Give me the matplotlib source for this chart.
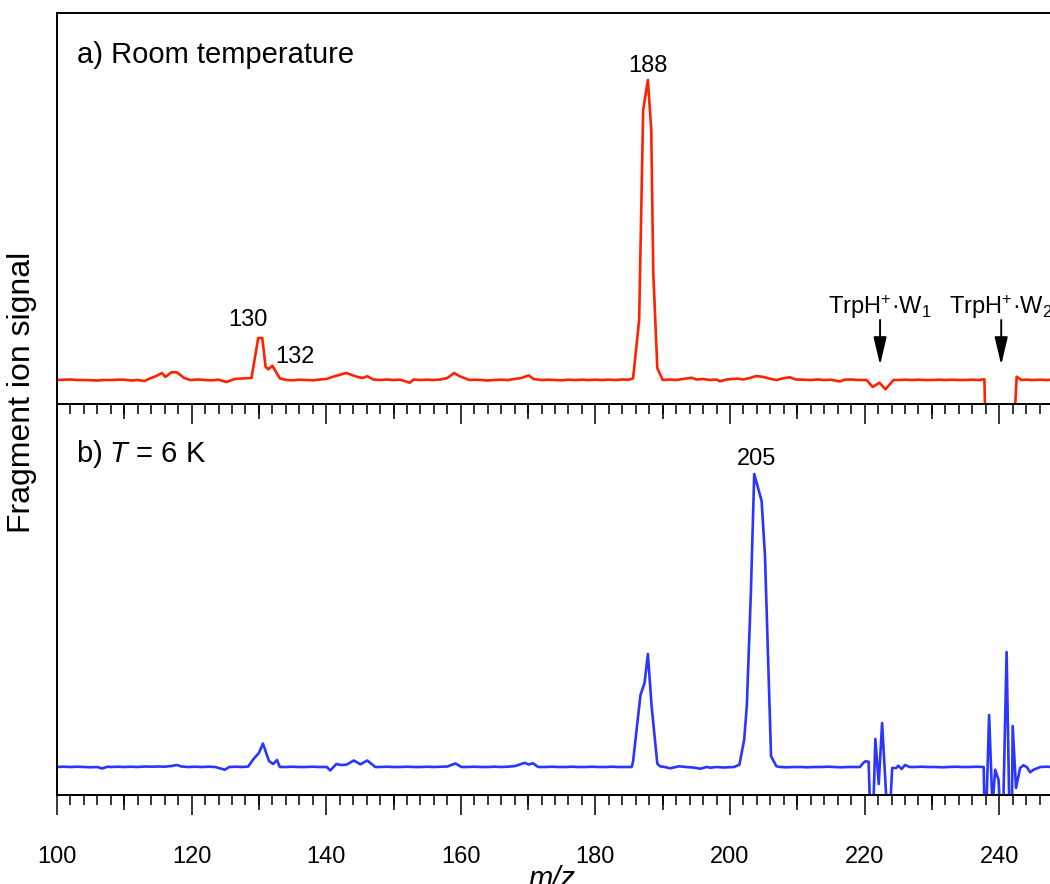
import matplotlib
matplotlib.use("Agg")
import matplotlib.pyplot as plt
from matplotlib.ticker import MultipleLocator, NullLocator

plt.rcParams['font.family'] = ['Liberation Sans', 'DejaVu Sans']
plt.rcParams['mathtext.fontset'] = 'custom'
plt.rcParams['mathtext.rm'] = 'Liberation Sans'
plt.rcParams['mathtext.it'] = 'Liberation Sans:italic'
plt.rcParams['mathtext.sf'] = 'Liberation Sans'

# ---------------- data (m/z, fragment ion signal in a.u.) ----------------
room_temp = [
    (100, 0), (101, 0.3), (102, 0.5), (103, 0), (104, 0), (105, -0.3), (106, -0.5),
    (107, 0), (108, 0), (109, 0.3), (110, 0.3), (111, -0.5), (112, 0), (113, -1),
    (113.8, 1.5), (114.7, 3.8), (115.6, 7), (116.1, 3), (117.0, 7.7), (117.8, 7.7),
    (118.9, 2), (119.8, 0), (121, 0.5), (122, 0), (123, -0.3), (124, 0.3), (125.2, -2),
    (126.4, 1), (127.5, 1.5), (128.9, 2), (129.9, 42), (130.5, 42), (131.0, 13),
    (131.4, 10.7), (132.0, 14.3), (133.1, 1.7), (134.1, 0), (135, -0.3), (136, 0.3),
    (137, 0), (138, -0.3), (139, 0.5), (140, 1), (141.3, 3.8), (142.2, 5.5), (143.0, 7),
    (144.0, 4.5), (144.7, 3), (145.4, 2), (146.1, 3.8), (147, 0.5), (148, 0), (149, 0.5),
    (150, 0), (151, 0.3), (152.4, -2.7), (153, 0.5), (154, 0), (155, 0.3), (156, 0),
    (157, 0.5), (158, 2), (159, 7), (159.8, 3.8), (160.5, 2), (161.3, 0), (162, 0.3),
    (163, 0), (164, -0.5), (165, 0), (166, 0.3), (167, 0), (168, 1), (169, 2),
    (170.1, 4.6), (170.8, 1), (172, 0), (173, 0.3), (174, 0), (175, -0.3), (176, 0.3),
    (177, 0), (178, 0.3), (179, 0), (180, 0.3), (181, 0), (182, 0.3), (183, 0),
    (184, 0.5), (185, 0.3), (185.6, 1.7), (186.5, 60), (187.1, 270), (187.8, 300),
    (188.3, 250), (188.6, 107), (189.2, 12), (190, 0), (191, 0.5), (192, 0), (193, 1),
    (194.3, 2.3), (195, 0.5), (196, 1), (197, 0), (198, 0.5), (198.5, -1.3), (199.5, 0.5),
    (200.3, 1), (201.2, 1.3), (202, 0.5), (203.2, 2.5), (203.9, 4), (205, 3),
    (205.8, 1.5), (206.9, 0), (207.8, 1.5), (208.9, 2.7), (209.8, 0.5), (211, 0.3),
    (212, 0), (213, 0.5), (214, 0), (215, 0.3), (216.3, -1.5), (217, 0.3), (218, 0.5),
    (219, 0), (220.3, 0), (221.2, -7), (222.2, -2.7), (223.1, -9.3), (224.3, 0),
    (225, 0), (226, 0.3), (227, 0), (228, 0.3), (229, 0), (230, 0), (231, 0.3),
    (232, 0), (233, 0.3), (234, 0), (235, 0), (236, 0.3), (237, 0), (237.8, 0.7),
    (238.0, -60), (242.1, -60), (242.6, 3.3), (243.3, 0), (244, 0.3), (245, 0),
    (246, 0.3), (247, 0), (248, 0.3), (249, 0), (250, 0),
]

cold_6K = [
    (100, 0), (101, 0.3), (102, 0), (103, 0.3), (104, 0), (105, -0.3), (106, 0),
    (106.7, -1.5), (107.5, 0.3), (108, 0), (109, 0.3), (110, 0), (111, 0.3), (112, 0),
    (113, 0.5), (114, 0.3), (115, 0.5), (116, 0.3), (117, 1), (117.8, 2), (118.5, 0.5),
    (119.5, 0), (120.5, 0.3), (121.5, 0), (122.5, 0.3), (123.5, 0), (124.95, -2.7),
    (125.6, 0), (126.5, 0.3), (127.5, 0), (128.4, 0.4), (129.2, 8), (130.0, 14),
    (130.6, 23.5), (131.5, 6), (132.1, 3), (132.7, 7), (133.1, 0), (134, 0), (135, 0.3),
    (136, 0), (137, 0), (138, 0.3), (139, 0), (140.1, 0), (140.6, -3.5), (141.5, 3),
    (142.2, 2), (143.0, 2.3), (144.1, 6.5), (145.1, 2.7), (146.1, 6.5), (147.3, 0),
    (148, 0), (149, 0.3), (150, 0), (151, 0), (152, 0.3), (153, 0), (154, 0),
    (155, 0.3), (156, 0), (157, 0.3), (158, 0.5), (159.2, 3.5), (160.1, 0), (161, 0),
    (162, 0.3), (163, 0), (164, 0), (165, 0.3), (166, 0), (167, 0.3), (168.1, 1),
    (169.5, 4.2), (170.1, 2.5), (170.7, 3.8), (171.5, 0), (172.5, 0), (173.5, 0.3),
    (174.5, 0), (175.5, 0), (176.5, 0.3), (177.5, 0), (178.5, 0), (179.5, 0.3),
    (180.5, 0), (181.5, 0), (182.5, 0.3), (183.5, 0), (184.5, 0), (185.4, 0),
    (185.6, 5.7), (186.7, 72), (187.3, 84), (187.8, 113), (188.35, 61), (189.2, 3.3),
    (189.6, 0.7), (190.3, 0), (191.1, -1.3), (192.4, 0.7), (193.5, 0), (194.5, -0.5),
    (195.6, -1.7), (196.5, 0), (197.1, -0.7), (198, 0), (199, -0.5), (200.6, 0),
    (201.4, 2.3), (202.1, 27), (202.5, 61), (203.1, 174), (203.6, 293), (204.7, 266),
    (205.2, 211), (206.1, 10.7), (206.9, 0.7), (207.5, 0), (208.4, -0.3), (209.5, 0),
    (210.5, 0), (211.5, -0.3), (212.5, 0), (213.5, 0), (214.5, 0.3), (215.5, 0),
    (216.5, -0.3), (217.5, 0), (218.5, 0), (219.3, 0), (219.8, 4), (220.1, 5.7),
    (220.6, 5.3), (220.8, -40), (221.3, -40), (221.6, 28), (222.1, -17), (222.6, 44),
    (223.3, -40), (223.8, -40), (224.1, -1), (224.7, -1), (225.0, 1.3), (225.5, -2),
    (226.0, 2), (226.7, 0), (227.5, 0), (228.5, 0.3), (229.5, 0), (230.5, 0),
    (231.5, -0.3), (232.5, 0), (233.5, 0.3), (234.5, 0), (235.5, 0), (236.5, 0.3),
    (237.7, 0), (237.8, -40), (238.1, -40), (238.5, 52), (239.0, -40), (239.4, -2.7),
    (239.9, -12.7), (240.1, -40), (240.6, -40), (241.1, 115), (241.5, -40),
    (241.9, -40), (242.0, 41), (242.5, -21), (243.1, -1), (243.6, 1.7), (244.1, 0),
    (244.6, -5.3), (245.1, -2.7), (246.1, 0), (247, 0.3), (248, 0), (249, 0.3), (250, 0),
]

mz_a, sig_a = zip(*room_temp)
mz_b, sig_b = zip(*cold_6K)

peak_labels_a = [("188", 187.8, 308), ("130", 128.4, 54), ("132", 135.4, 17)]
peak_labels_b = [("205", 204.0, 302)]
cluster_mz = [222.3, 240.3]
cluster_labels = [r"TrpH$^{+}$·W$_{1}$", r"TrpH$^{+}$·W$_{2}$"]

RED = "#ff2200"
BLUE = "#2a36ff"

W, H = 1050, 884
fig = plt.figure(figsize=(W / 100, H / 100), dpi=100)

left = 57 / W
width = (57 + 150 * 6.73) / W - left
ax_a = fig.add_axes([left, 1 - 404 / H, width, (404 - 13) / H])
ax_b = fig.add_axes([left, 1 - 795 / H, width, (795 - 404) / H], sharex=ax_a)
ax_b.set_facecolor('none')

ax_a.plot(mz_a, sig_a, color=RED, lw=1.9)
ax_b.plot(mz_b, sig_b, color=BLUE, lw=1.9)

ax_a.set_xlim(100, 250)
ax_a.set_ylim(-24, 367)
ax_b.set_ylim(-28, 363)

for ax in (ax_a, ax_b):
    ax.spines['right'].set_visible(False)
    for s in ax.spines.values():
        s.set_linewidth(1.4)
    ax.set_yticks([])
    ax.xaxis.set_major_locator(MultipleLocator(20))
    ax.xaxis.set_minor_locator(MultipleLocator(2))
    ax.tick_params(axis='x', which='major', direction='out', length=14.4, width=1.1,
                   labelsize=17, pad=22)
    ax.tick_params(axis='x', which='minor', direction='out', length=7.2, width=1.1)
    sec = ax.secondary_xaxis('bottom')
    sec.set_xticks(list(range(110, 250, 20)))
    sec.xaxis.set_minor_locator(NullLocator())
    sec.tick_params(axis='x', which='major', direction='out', length=10.8, width=1.1,
                    labelbottom=False)
    sec.spines['bottom'].set_linewidth(1.4)

ax_b.spines['top'].set_visible(False)
ax_a.tick_params(axis='x', labelbottom=False)

for txt, x, y in peak_labels_a:
    ax_a.text(x, y, txt, ha='center', va='baseline', fontsize=17)
for txt, x, y in peak_labels_b:
    ax_b.text(x, y, txt, ha='center', va='baseline', fontsize=17)

for x, lab in zip(cluster_mz, cluster_labels):
    ax_a.annotate('', xy=(x, 15), xytext=(x, 60),
                  arrowprops=dict(arrowstyle='-|>,head_length=0.85,head_width=0.2',
                                  mutation_scale=20, lw=1.4, color='black',
                                  shrinkA=0, shrinkB=0))
    ax_a.text(x, 66, lab, ha='center', va='baseline', fontsize=17, clip_on=False)


def fpos(x, y):
    return x / W, 1 - y / H


fig.text(*fpos(77, 63), "a) Room temperature", fontsize=21, va='baseline', ha='left')
fig.text(*fpos(76, 462), r"b) $\it{T}$ = 6 K", fontsize=21, va='baseline', ha='left')
fig.text(*fpos(22, 392), "Fragment ion signal", fontsize=23, rotation=90,
         va='center', ha='center')
fig.text(*fpos(552, 879), "m/z", fontsize=21, style='italic', va='center', ha='center')

fig.savefig("out.png", dpi=100)
